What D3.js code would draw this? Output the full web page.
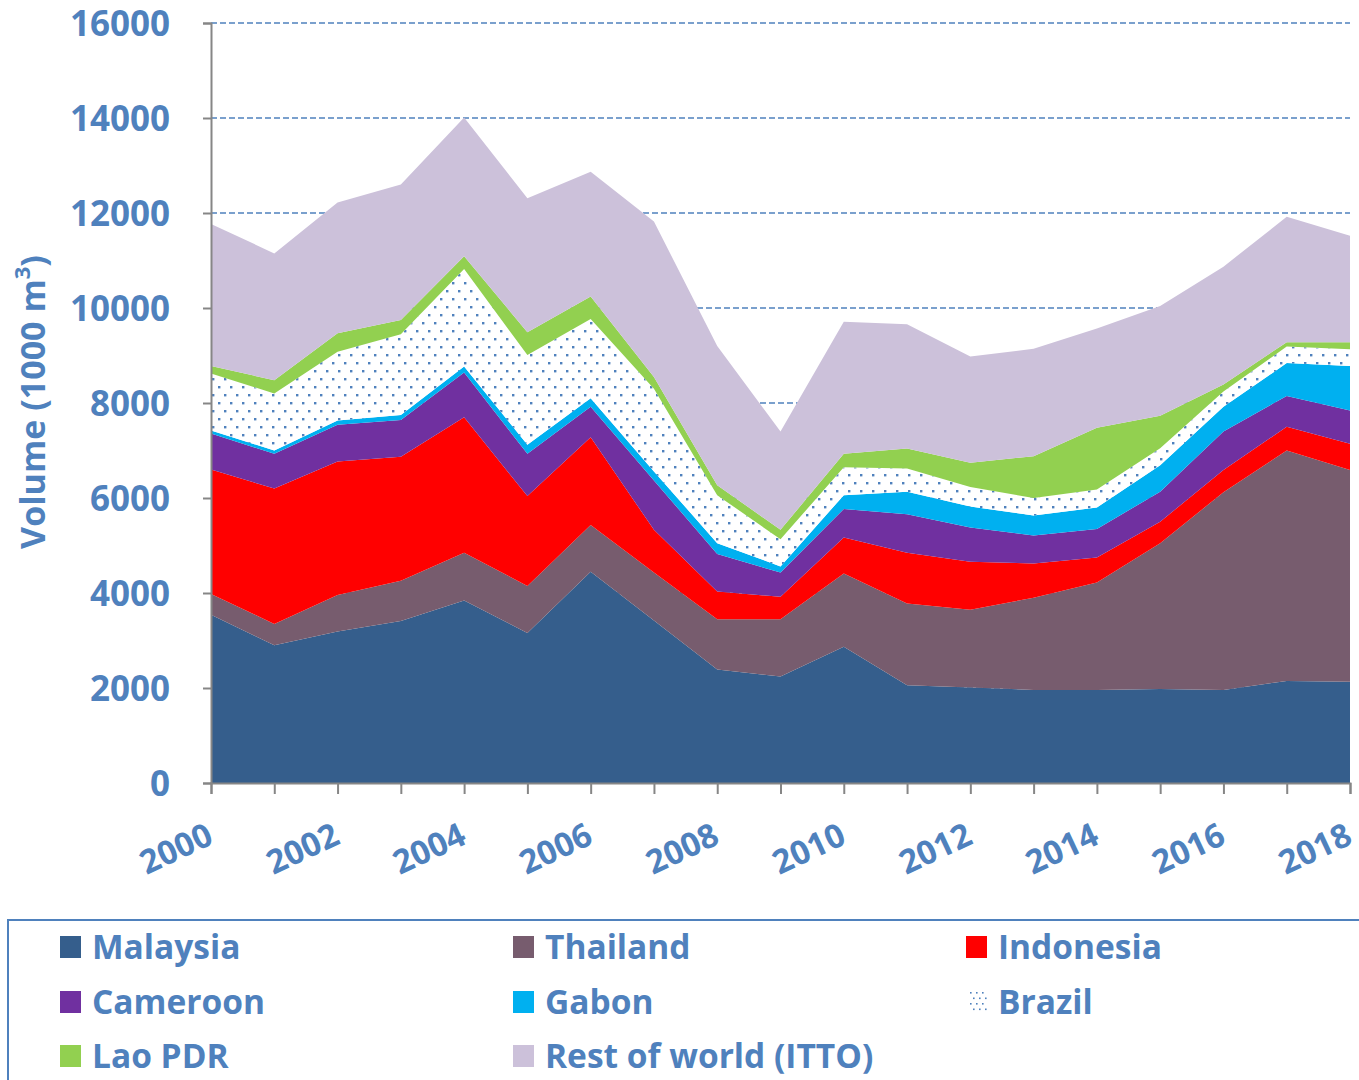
<!DOCTYPE html>
<html>
<head>
<meta charset="utf-8">
<script src="https://cdn.jsdelivr.net/npm/d3@7"></script>
<style>
  body { margin: 0; background: #fff; }
  svg text { font-family: "Open Sans", "Noto Sans", sans-serif; font-weight: bold; fill: #4F81BD; }
</style>
</head>
<body>
<svg id="chart"></svg>
<script>
// volume (1000 m3), one value per year
const years = [2000,2001,2002,2003,2004,2005,2006,2007,2008,2009,2010,2011,2012,2013,2014,2015,2016,2017,2018];
const malaysia  = [3540,2900,3190,3410,3840,3160,4450,3420,2390,2240,2870,2060,2010,1960,1960,1980,1960,2150,2130];
const thailand  = [440,450,770,850,1010,990,980,1010,1060,1210,1540,1720,1640,1940,2260,3070,4160,4850,4460];
const indonesia = [2620,2850,2810,2610,2850,1890,1850,900,580,470,760,1070,1010,720,530,450,470,500,550];
const cameroon  = [760,730,770,770,940,890,640,1040,790,510,600,810,720,590,600,630,810,650,700];
const gabon     = [60,70,90,110,130,190,180,190,230,130,290,470,440,420,450,560,520,690,940];
const brazil    = [1200,1200,1450,1700,2050,1890,1670,1740,1010,570,590,490,410,370,380,360,320,350,350];
const laoPDR    = [160,280,390,300,270,480,470,250,210,200,280,420,510,880,1300,680,150,90,150];
const restWorld = [2990,2670,2750,2850,2920,2820,2630,3270,2930,2070,2780,2620,2240,2260,2090,2310,2480,2640,2240];

const yTicks = [0,2000,4000,6000,8000,10000,12000,14000,16000];
const xTicks = [2000,2002,2004,2006,2008,2010,2012,2014,2016,2018];

const series = [
  {key: "Malaysia", values: malaysia, color: "#355E8C"},
  {key: "Thailand", values: thailand, color: "#775C6E"},
  {key: "Indonesia", values: indonesia, color: "#FF0000"},
  {key: "Cameroon", values: cameroon, color: "#7030A0"},
  {key: "Gabon", values: gabon, color: "#00B0F0"},
  {key: "Brazil", values: brazil, color: "url(#dots)"},
  {key: "Lao PDR", values: laoPDR, color: "#92D050"},
  {key: "Rest of world (ITTO)", values: restWorld, color: "#CCC1DA"}
];

const width = 1359, height = 1080;
const margin = {left: 211, right: 9, top: 23, bottom: 297};

const svg = d3.select("#chart").attr("width", width).attr("height", height);

// dotted fill for Brazil
const pat = svg.append("defs").append("pattern")
    .attr("id", "dots")
    .attr("patternUnits", "userSpaceOnUse")
    .attr("width", 12).attr("height", 16);
pat.append("rect").attr("width", 12).attr("height", 16).attr("fill", "#fff");
pat.append("rect").attr("x", 2).attr("y", 2).attr("width", 2.4).attr("height", 2.4).attr("fill", "#4F81BD");
pat.append("rect").attr("x", 8).attr("y", 10).attr("width", 2.4).attr("height", 2.4).attr("fill", "#4F81BD");

const x = d3.scaleLinear().domain([2000, 2018]).range([margin.left, width - margin.right]);
const y = d3.scaleLinear().domain([0, 16000]).range([height - margin.bottom, margin.top]);

// table for the stack
const table = years.map((yr, i) => {
  const row = {year: yr};
  series.forEach(s => row[s.key] = s.values[i]);
  return row;
});
const stacked = d3.stack().keys(series.map(s => s.key))(table);

// dashed gridlines
svg.append("g")
  .selectAll("line")
  .data(yTicks.filter(d => d > 0))
  .join("line")
    .attr("x1", margin.left).attr("x2", width - margin.right)
    .attr("y1", d => y(d)).attr("y2", d => y(d))
    .attr("stroke", "#4F81BD")
    .attr("stroke-width", 1.5)
    .attr("stroke-dasharray", "6,3");

const area = d3.area()
  .x(d => x(d.data.year))
  .y0(d => y(d[0]))
  .y1(d => y(d[1]));

svg.append("g")
  .selectAll("path")
  .data(stacked)
  .join("path")
    .attr("d", area)
    .attr("fill", (d, i) => series[i].color);

// axes
const yAxis = svg.append("g")
  .attr("transform", "translate(" + margin.left + ",0)")
  .call(d3.axisLeft(y).tickValues(yTicks).tickSize(8).tickPadding(33).tickFormat(d3.format("d")));
yAxis.select(".domain").attr("stroke", "#868686").attr("stroke-width", 2);
yAxis.selectAll(".tick line").attr("stroke", "#868686").attr("stroke-width", 2);
yAxis.selectAll("text").style("font-size", "35px").attr("dy", "0.36em");

const xAxis = svg.append("g")
  .attr("transform", "translate(0," + y(0) + ")")
  .call(d3.axisBottom(x).tickValues(years).tickSize(11).tickFormat(""));
xAxis.select(".domain").attr("stroke", "#868686").attr("stroke-width", 2);
xAxis.selectAll(".tick line").attr("stroke", "#868686").attr("stroke-width", 2);

svg.append("g")
  .selectAll("text")
  .data(xTicks)
  .join("text")
    .attr("transform", d => "translate(" + (x(d) + 4) + "," + (y(0) + 60) + ") rotate(-25)")
    .attr("text-anchor", "end")
    .style("font-size", "33px")
    .text(d => d);

// y label
const yl = svg.append("text")
  .attr("transform", "translate(45,402) rotate(-90)")
  .attr("text-anchor", "middle")
  .style("font-size", "34px");
yl.append("tspan").text("Volume (1000 m");
yl.append("tspan").attr("baseline-shift", "super").style("font-size", "22px").text("3");
yl.append("tspan").text(")");

// legend
svg.append("rect")
  .attr("x", 8).attr("y", 920)
  .attr("width", 1400).attr("height", 200)
  .attr("fill", "none")
  .attr("stroke", "#4F81BD")
  .attr("stroke-width", 2);

const colX = [60, 513, 966];
const rowY = [947, 1002, 1056];
const leg = svg.append("g")
  .selectAll("g")
  .data(series)
  .join("g")
    .attr("transform", (d, i) => "translate(" + colX[i % 3] + "," + rowY[Math.floor(i / 3)] + ")");
leg.append("rect")
  .attr("x", 0).attr("y", -11)
  .attr("width", 21).attr("height", 22)
  .attr("fill", d => d.key === "Brazil" ? "none" : d.color);
leg.filter(d => d.key === "Brazil")
  .selectAll("circle")
  .data(d3.range(12))
  .join("rect")
    .attr("x", i => 4 + (i % 3) * 6 + (Math.floor(i / 3) % 2) * 3)
    .attr("y", i => -10 + Math.floor(i / 3) * 5.5)
    .attr("width", 1.6).attr("height", 1.6)
    .attr("fill", "#4F81BD");
leg.append("text")
  .attr("x", 32).attr("y", 0)
  .attr("dy", "0.36em")
  .style("font-size", "33.5px")
  .text(d => d.key);
</script>
</body>
</html>
